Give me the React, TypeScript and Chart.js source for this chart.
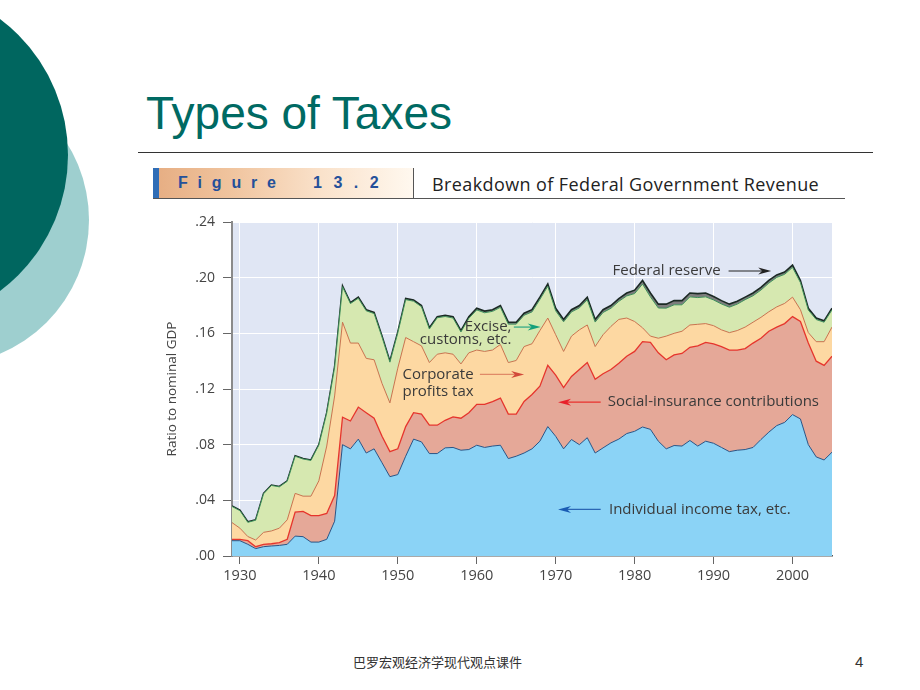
import React, { useEffect, useRef } from "react";
import { Chart, registerables } from "chart.js";

Chart.register(...registerables);

const years = [
  1929, 1930, 1931, 1932, 1933, 1934, 1935, 1936, 1937, 1938, 1939,
  1940, 1941, 1942, 1943, 1944, 1945, 1946, 1947, 1948, 1949,
  1950, 1951, 1952, 1953, 1954, 1955, 1956, 1957, 1958, 1959,
  1960, 1961, 1962, 1963, 1964, 1965, 1966, 1967, 1968, 1969,
  1970, 1971, 1972, 1973, 1974, 1975, 1976, 1977, 1978, 1979,
  1980, 1981, 1982, 1983, 1984, 1985, 1986, 1987, 1988, 1989,
  1990, 1991, 1992, 1993, 1994, 1995, 1996, 1997, 1998, 1999,
  2000, 2001, 2002, 2003, 2004, 2005,
];

// Cumulative level (ratio to nominal GDP) at the top of each layer
const individualIncomeTax = [
  0.011, 0.011, 0.0084, 0.0053, 0.0067, 0.0072, 0.0076, 0.0084, 0.0143, 0.0139, 0.010,
  0.010, 0.012, 0.025, 0.080, 0.077, 0.084, 0.074, 0.077, 0.067, 0.057,
  0.0585, 0.0717, 0.084, 0.082, 0.0736, 0.0736, 0.0777, 0.078, 0.076, 0.0765,
  0.0796, 0.078, 0.079, 0.0796, 0.070, 0.0717, 0.074, 0.077, 0.0825, 0.093,
  0.086, 0.077, 0.0837, 0.080, 0.085, 0.074, 0.0777, 0.0813, 0.084, 0.088,
  0.0896, 0.0927, 0.091, 0.0825, 0.077, 0.0794, 0.079, 0.083, 0.079, 0.0825,
  0.081, 0.078, 0.075, 0.076, 0.0765, 0.078, 0.0837, 0.089, 0.0937, 0.096,
  0.1016, 0.0985, 0.080, 0.0712, 0.069, 0.0746,
];

const socialInsuranceTop = [
  0.012, 0.012, 0.011, 0.0067, 0.0084, 0.0088, 0.0096, 0.012, 0.0315, 0.032, 0.029,
  0.029, 0.0306, 0.0435, 0.0997, 0.097, 0.107, 0.103, 0.099, 0.086, 0.075,
  0.077, 0.093, 0.103, 0.102, 0.094, 0.094, 0.0975, 0.100, 0.099, 0.103,
  0.109, 0.109, 0.111, 0.1135, 0.102, 0.102, 0.111, 0.116, 0.122, 0.137,
  0.130, 0.121, 0.129, 0.134, 0.139, 0.127, 0.131, 0.134, 0.1385, 0.1435,
  0.147, 0.154, 0.1535, 0.146, 0.141, 0.1445, 0.1455, 0.150, 0.151, 0.1535,
  0.1525, 0.1505, 0.148, 0.148, 0.149, 0.153, 0.1565, 0.1615, 0.1645, 0.167,
  0.172, 0.1685, 0.153, 0.140, 0.137, 0.1435,
];

const corporateProfitsTop = [
  0.024, 0.020, 0.014, 0.0115, 0.017, 0.018, 0.020, 0.026, 0.045, 0.043, 0.043,
  0.054, 0.079, 0.115, 0.168, 0.153, 0.153, 0.142, 0.141, 0.124, 0.110,
  0.135, 0.157, 0.154, 0.151, 0.139, 0.145, 0.146, 0.145, 0.138, 0.146,
  0.148, 0.147, 0.148, 0.152, 0.139, 0.1405, 0.1505, 0.1525, 0.162, 0.171,
  0.159, 0.147, 0.158, 0.1625, 0.166, 0.1505, 0.159, 0.165, 0.170, 0.171,
  0.1685, 0.164, 0.158, 0.1565, 0.158, 0.160, 0.1615, 0.166, 0.1665, 0.167,
  0.1655, 0.1625, 0.1605, 0.162, 0.1645, 0.168, 0.1715, 0.1755, 0.179, 0.1815,
  0.186, 0.177, 0.1605, 0.154, 0.154, 0.1645,
];

const totalRevenue = [
  0.036, 0.033, 0.0246, 0.026, 0.045, 0.051, 0.050, 0.054, 0.072, 0.070, 0.069,
  0.080, 0.103, 0.136, 0.194, 0.182, 0.186, 0.177, 0.175, 0.158, 0.140,
  0.161, 0.185, 0.184, 0.180, 0.164, 0.172, 0.173, 0.172, 0.162, 0.172,
  0.178, 0.176, 0.177, 0.180, 0.168, 0.168, 0.1745, 0.177, 0.186, 0.1955,
  0.178, 0.170, 0.177, 0.180, 0.186, 0.170, 0.177, 0.180, 0.185, 0.189,
  0.191, 0.198, 0.189, 0.181, 0.181, 0.1835, 0.1835, 0.189, 0.1885, 0.189,
  0.1865, 0.1835, 0.181, 0.183, 0.186, 0.189, 0.193, 0.198, 0.202, 0.204,
  0.209, 0.198, 0.178, 0.171, 0.169, 0.178,
];

// Federal reserve share (thin top layer)
const federalReserve = [
  0.0004, 0.0004, 0.0004, 0.0003, 0.0003, 0.0003, 0.0003, 0.0003, 0.0003, 0.0003, 0.0003,
  0.0003, 0.0003, 0.0004, 0.0005, 0.0006, 0.0008, 0.0008, 0.0008, 0.0007, 0.0007,
  0.0007, 0.0008, 0.0009, 0.0009, 0.0009, 0.0008, 0.0009, 0.0010, 0.0010, 0.0012,
  0.0012, 0.0012, 0.0012, 0.0013, 0.0014, 0.0014, 0.0015, 0.0016, 0.0016, 0.0017,
  0.0018, 0.0017, 0.0016, 0.0017, 0.0019, 0.0019, 0.0020, 0.0020, 0.0020, 0.0021,
  0.0024, 0.0026, 0.0028, 0.0028, 0.0029, 0.0030, 0.0030, 0.0028, 0.0028, 0.0028,
  0.0025, 0.0024, 0.0022, 0.0020, 0.0018, 0.0020, 0.0019, 0.0019, 0.0018, 0.0016,
  0.0016, 0.0015, 0.0013, 0.0011, 0.0010, 0.0011,
];

const xTickYears = [1930, 1940, 1950, 1960, 1970, 1980, 1990, 2000];
const yTickLabels = [".00", ".04", ".08", ".12", ".16", ".20", ".24"];

const seriesNames = [
  "Individual income tax, etc.",
  "Social-insurance contributions",
  "Corporate profits tax",
  "Excise, customs, etc.",
  "Federal reserve",
];

type Note = {
  lines: string[];
  year: number;
  value: number;
  align: "left" | "right";
  lineGap: number;
  arrowFrom: number;
  arrowTo: number;
  arrowValue: number;
  lineColor: string;
  headColor: string;
};

const notes: Note[] = [
  { lines: ["Federal reserve"], year: 1977.2, value: 0.2048, align: "left", lineGap: 16, arrowFrom: 1991.9, arrowTo: 1997.3, arrowValue: 0.2048, lineColor: "#222", headColor: "#222" },
  { lines: ["Excise,", "customs, etc."], year: 1964.4, value: 0.1645, align: "right", lineGap: 13, arrowFrom: 1964.7, arrowTo: 1968.1, arrowValue: 0.1645, lineColor: "#2aa584", headColor: "#13a07a" },
  { lines: ["Corporate", "profits tax"], year: 1950.6, value: 0.1305, align: "left", lineGap: 17, arrowFrom: 1960.4, arrowTo: 1966.0, arrowValue: 0.1305, lineColor: "#e08a68", headColor: "#d2493a" },
  { lines: ["Social-insurance contributions"], year: 1976.6, value: 0.1105, align: "left", lineGap: 16, arrowFrom: 1975.7, arrowTo: 1970.3, arrowValue: 0.1105, lineColor: "#e8302c", headColor: "#e8202a" },
  { lines: ["Individual income tax, etc."], year: 1976.75, value: 0.0335, align: "left", lineGap: 16, arrowFrom: 1975.7, arrowTo: 1970.3, arrowValue: 0.0335, lineColor: "#2a66b4", headColor: "#1a5cb4" },
];

const FONT = "'Open Sans', 'Noto Sans', sans-serif";

export default function App() {
  const canvasRef = useRef<HTMLCanvasElement | null>(null);

  useEffect(() => {
    const canvas = canvasRef.current;
    if (!canvas) return;

    const exciseTop = totalRevenue.map((v, i) => v - federalReserve[i]);
    const levels = [individualIncomeTax, socialInsuranceTop, corporateProfitsTop, exciseTop, totalRevenue];
    const fills = ["#8bd3f6", "#e5a898", "#fdd8a2", "#d6e8b0", "#7d7d7d"];
    const strokes = ["#2c5383", "#e6352c", "#c9744e", "#3d8f5a", "#1b2a24"];
    const widths = [1, 1.3, 1, 1, 1.6];

    const bgPlugin = {
      id: "plotBg",
      beforeDraw(chart: any) {
        const { ctx, chartArea } = chart;
        ctx.save();
        ctx.fillStyle = "#e0e6f4";
        ctx.fillRect(chartArea.left, chartArea.top, chartArea.right - chartArea.left, chartArea.bottom - chartArea.top);
        ctx.restore();
      },
    };

    const notesPlugin = {
      id: "notes",
      afterDatasetsDraw(chart: any) {
        const { ctx } = chart;
        const xs = chart.scales.x;
        const ys = chart.scales.y;
        ctx.save();
        ctx.font = `15px ${FONT}`;
        ctx.textBaseline = "middle";
        for (const n of notes) {
          const px = xs.getPixelForValue(n.year);
          const py = ys.getPixelForValue(n.value);
          ctx.fillStyle = "#3a3a3a";
          ctx.textAlign = n.align;
          n.lines.forEach((ln, i) => ctx.fillText(ln, px, py + i * n.lineGap));
          const x1 = xs.getPixelForValue(n.arrowFrom);
          const x2 = xs.getPixelForValue(n.arrowTo);
          const ay = ys.getPixelForValue(n.arrowValue);
          const dir = x2 > x1 ? 1 : -1;
          const headLen = 13;
          ctx.strokeStyle = n.lineColor;
          ctx.lineWidth = 1.2;
          ctx.beginPath();
          ctx.moveTo(x1, ay);
          ctx.lineTo(x2 - dir * headLen * 0.6, ay);
          ctx.stroke();
          ctx.fillStyle = n.headColor;
          ctx.beginPath();
          ctx.moveTo(x2, ay);
          ctx.lineTo(x2 - dir * headLen, ay - 3.5);
          ctx.lineTo(x2 - dir * headLen * 0.7, ay);
          ctx.lineTo(x2 - dir * headLen, ay + 3.5);
          ctx.closePath();
          ctx.fill();
        }
        ctx.restore();
      },
    };

    const chart = new Chart(canvas, {
      type: "line",
      data: {
        datasets: levels.map((arr, i) => ({
          label: seriesNames[i],
          data: years.map((yr, j) => ({ x: yr, y: arr[j] })),
          backgroundColor: fills[i],
          borderColor: strokes[i],
          borderWidth: widths[i],
          pointRadius: 0,
          tension: 0,
          fill: i === 0 ? "origin" : "-1",
        })),
      },
      options: {
        responsive: false,
        animation: false,
        layout: { padding: { left: 0, right: 8, top: 10, bottom: 0 } },
        plugins: {
          legend: { display: false },
          tooltip: { enabled: false },
        },
        scales: {
          x: {
            type: "linear",
            min: 1929,
            max: 2005,
            afterBuildTicks: (scale: any) => {
              scale.ticks = xTickYears.map((v) => ({ value: v }));
            },
            afterFit: (scale: any) => {
              scale.height = 36;
              scale.paddingLeft = 0;
              scale.paddingRight = 0;
            },
            ticks: {
              callback: (v: any) => String(v),
              color: "#444",
              font: { family: FONT, size: 14.5 },
              padding: 3,
              maxRotation: 0,
            },
            grid: { color: "#ffffff", lineWidth: 1, tickColor: "#666", tickLength: 8 },
            border: { color: "#555", width: 1.5 },
          },
          y: {
            min: 0,
            max: 0.24,
            afterBuildTicks: (scale: any) => {
              scale.ticks = yTickLabels.map((_, i) => ({ value: i * 0.04 }));
            },
            afterFit: (scale: any) => {
              scale.width = 72;
              scale.paddingTop = 0;
              scale.paddingBottom = 0;
            },
            ticks: {
              callback: (v: any) => yTickLabels[Math.round(Number(v) / 0.04)],
              color: "#444",
              font: { family: FONT, size: 14 },
              padding: 8,
            },
            grid: { color: "#ffffff", lineWidth: 1, tickColor: "#666", tickLength: 9 },
            border: { color: "#8a8a8a", width: 2 },
            title: {
              display: true,
              text: "Ratio to nominal GDP",
              color: "#444",
              font: { family: FONT, size: 13.5 },
            },
          },
        },
      },
      plugins: [bgPlugin, notesPlugin],
    } as any);

    return () => chart.destroy();
  }, []);

  return (
    <div
      style={{
        position: "fixed",
        left: 0,
        top: 0,
        width: 920,
        height: 690,
        background: "#ffffff",
        overflow: "hidden",
        fontFamily: "'Liberation Sans', Arial, sans-serif",
      }}
    >
      {/* decorative circles */}
      <div style={{ position: "absolute", left: -56 - 145, top: 220 - 145, width: 290, height: 290, borderRadius: "50%", background: "#9ecfcf" }} />
      <div style={{ position: "absolute", left: -102 - 170, top: 155 - 170, width: 340, height: 340, borderRadius: "50%", background: "#00665f" }} />

      {/* title */}
      <div style={{ position: "absolute", left: 146, top: 87, fontSize: 46, color: "#006a63", lineHeight: "52px", whiteSpace: "nowrap" }}>
        Types of Taxes
      </div>
      <div style={{ position: "absolute", left: 138, top: 152, width: 735, height: 1, background: "#333" }} />

      {/* figure header */}
      <div
        style={{
          position: "absolute",
          left: 153,
          top: 168,
          width: 260,
          height: 30,
          background: "linear-gradient(90deg, #e6ad82 0%, #f0c49e 30%, #fae2cb 65%, #fff8ef 100%)",
        }}
      />
      <div style={{ position: "absolute", left: 153, top: 168, width: 6, height: 30, background: "#2f6db6" }} />
      <div style={{ position: "absolute", left: 178, top: 171, fontWeight: "bold", fontSize: 16, color: "#24509a", lineHeight: "24px", letterSpacing: 9.8, whiteSpace: "nowrap" }}>
        Figure
      </div>
      <div style={{ position: "absolute", left: 313, top: 171, fontWeight: "bold", fontSize: 16, color: "#24509a", lineHeight: "24px", letterSpacing: 11.5, whiteSpace: "nowrap" }}>
        13.2
      </div>
      <div style={{ position: "absolute", left: 413, top: 168, width: 1, height: 30, background: "#555" }} />
      <div style={{ position: "absolute", left: 153, top: 198, width: 692, height: 1, background: "#555" }} />
      <div style={{ position: "absolute", left: 432, top: 170, fontFamily: FONT, fontSize: 18, letterSpacing: 0.4, color: "#222", lineHeight: "28px", whiteSpace: "nowrap" }}>
        Breakdown of Federal Government Revenue
      </div>

      {/* chart */}
      <canvas ref={canvasRef} width={680} height={380} style={{ position: "absolute", left: 160, top: 212 }} />

      {/* footer */}
      <div style={{ position: "absolute", left: 353, top: 653, fontFamily: "'Noto Sans CJK SC', sans-serif", fontSize: 13, color: "#333", lineHeight: "18px", whiteSpace: "nowrap" }}>
        巴罗宏观经济学现代观点课件
      </div>
      <div style={{ position: "absolute", left: 855, top: 652, fontSize: 15, color: "#333", lineHeight: "20px" }}>4</div>
    </div>
  );
}
